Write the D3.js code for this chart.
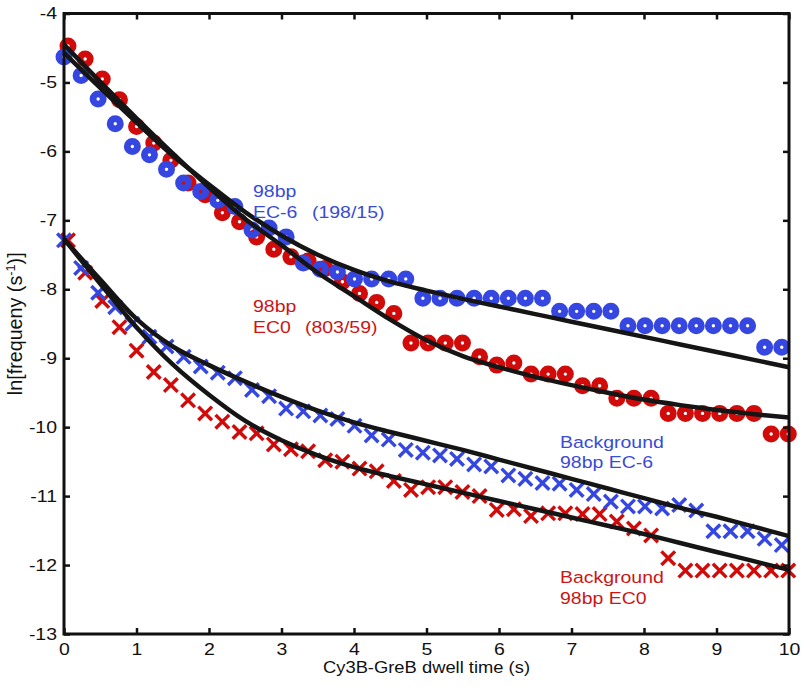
<!DOCTYPE html>
<html><head><meta charset="utf-8">
<script src="https://cdn.jsdelivr.net/npm/d3@7"></script>
<style>body{margin:0;background:#fff}svg{display:block}text{font-family:"Liberation Sans",Arial,sans-serif}</style>
</head><body>
<svg id="c" width="802" height="687"></svg>
<script>
const xTicks = [0,1,2,3,4,5,6,7,8,9,10];
const yTicks = [-4,-5,-6,-7,-8,-9,-10,-11,-12,-13];

const xBlue = [0.000,0.236,0.471,0.707,0.943,1.179,1.414,1.650,1.886,2.121,2.357,2.593,2.829,3.064,3.300,3.536,3.771,4.007,4.243,4.479,4.714,4.950,5.186,5.421,5.657,5.893,6.129,6.364,6.600,6.836,7.071,7.307,7.543,7.779,8.014,8.250,8.486,8.721,8.957,9.193,9.429,9.664,9.900];
const xRed = [0.055,0.292,0.528,0.765,1.001,1.238,1.474,1.711,1.947,2.184,2.421,2.657,2.894,3.130,3.367,3.603,3.840,4.076,4.313,4.550,4.786,5.023,5.259,5.496,5.732,5.969,6.205,6.442,6.678,6.915,7.152,7.388,7.625,7.861,8.098,8.334,8.571,8.807,9.044,9.281,9.517,9.754,9.990];

const ec6Circles = [-4.63,-4.90,-5.24,-5.60,-5.93,-6.05,-6.26,-6.46,-6.58,-6.71,-6.80,-7.14,-7.11,-7.24,-7.62,-7.71,-7.75,-7.85,-7.85,-7.85,-7.85,-8.13,-8.13,-8.13,-8.13,-8.13,-8.13,-8.13,-8.13,-8.32,-8.32,-8.32,-8.32,-8.53,-8.53,-8.53,-8.53,-8.53,-8.53,-8.53,-8.53,-8.84,-8.84];
const ec0Circles = [-4.47,-4.66,-4.95,-5.25,-5.64,-5.88,-6.13,-6.46,-6.63,-6.89,-7.02,-7.24,-7.42,-7.53,-7.59,-7.70,-7.89,-8.06,-8.19,-8.35,-8.78,-8.78,-8.78,-8.78,-8.98,-9.10,-9.07,-9.23,-9.23,-9.23,-9.40,-9.40,-9.58,-9.58,-9.58,-9.80,-9.80,-9.80,-9.80,-9.80,-9.80,-10.10,-10.10];
const bgEc6Crosses = [-7.29,-7.69,-8.05,-8.26,-8.50,-8.69,-8.83,-8.98,-9.12,-9.21,-9.29,-9.46,-9.55,-9.73,-9.77,-9.83,-9.88,-9.98,-10.12,-10.18,-10.33,-10.37,-10.41,-10.46,-10.54,-10.57,-10.70,-10.75,-10.81,-10.82,-10.91,-10.97,-11.08,-11.15,-11.15,-11.18,-11.13,-11.21,-11.51,-11.51,-11.51,-11.62,-11.71];
const bgEc0Crosses = [-7.29,-7.76,-8.17,-8.55,-8.89,-9.20,-9.39,-9.61,-9.80,-9.92,-10.07,-10.09,-10.25,-10.32,-10.35,-10.48,-10.50,-10.60,-10.64,-10.78,-10.91,-10.87,-10.87,-10.94,-11.00,-11.20,-11.19,-11.29,-11.25,-11.25,-11.26,-11.26,-11.37,-11.47,-11.57,-11.90,-12.08,-12.08,-12.08,-12.08,-12.08,-12.08,-12.08];

const fitX = [0,0.5,1,1.5,2,2.5,3,3.5,4,4.5,5,5.5,6,6.5,7,7.5,8,8.5,9,9.5,10];
const fitEc6 = [-4.57,-5.08,-5.58,-6.06,-6.48,-6.88,-7.22,-7.50,-7.72,-7.89,-8.02,-8.14,-8.25,-8.36,-8.47,-8.58,-8.69,-8.80,-8.91,-9.02,-9.13];
const fitEc0 = [-4.45,-4.99,-5.52,-6.03,-6.52,-6.98,-7.36,-7.76,-8.10,-8.44,-8.74,-8.97,-9.13,-9.27,-9.39,-9.50,-9.60,-9.68,-9.75,-9.81,-9.86];
const fitBgEc6 = [-7.27,-7.86,-8.43,-8.83,-9.10,-9.34,-9.56,-9.76,-9.93,-10.07,-10.20,-10.33,-10.47,-10.61,-10.75,-10.89,-11.03,-11.17,-11.30,-11.44,-11.58];
const fitBgEc0 = [-7.27,-7.92,-8.55,-9.09,-9.53,-9.91,-10.19,-10.41,-10.58,-10.71,-10.83,-10.95,-11.07,-11.19,-11.31,-11.43,-11.55,-11.68,-11.81,-11.94,-12.07];

const BLUE = "#3547e0", RED = "#d10a0a", BLUE_T = "#3a4bd6", RED_T = "#cc1515";
const SX = 1.18;

const svg = d3.select("#c");
const L = 64, R = 789, T = 13.5, B = 634;
const x = d3.scaleLinear().domain([0,10]).range([L,R]);
const y = d3.scaleLinear().domain([-13,-4]).range([B,T]);

const g = svg.append("g");

function circles(xs, ys, color){
  g.append("g").selectAll("circle").data(ys).join("circle")
    .attr("cx",(d,i)=>x(xs[i])).attr("cy",d=>y(d)).attr("r",5.1)
    .attr("fill","none").attr("stroke",color).attr("stroke-width",6.8);
}
function crosses(xs, ys, color){
  const s = 6.8;
  const gg = g.append("g").attr("stroke",color).attr("stroke-width",3.4);
  ys.forEach((d,i)=>{
    const cx = x(xs[i]), cy = y(d);
    gg.append("line").attr("x1",cx-s).attr("y1",cy-s).attr("x2",cx+s).attr("y2",cy+s);
    gg.append("line").attr("x1",cx-s).attr("y1",cy+s).attr("x2",cx+s).attr("y2",cy-s);
  });
}
crosses(xRed, bgEc0Crosses, RED);
crosses(xBlue, bgEc6Crosses, BLUE);
circles(xRed, ec0Circles, RED);
circles(xBlue, ec6Circles, BLUE);

const line = d3.line().x((d,i)=>x(fitX[i])).y(d=>y(d)).curve(d3.curveCatmullRom);
[fitEc6, fitEc0, fitBgEc6, fitBgEc0].forEach(f=>{
  g.append("path").attr("d",line(f)).attr("fill","none").attr("stroke","#151515").attr("stroke-width",4.5);
});

const ax = svg.append("g");
const bx = ax.append("g").attr("transform",`translate(0,${B})`).call(d3.axisBottom(x).tickValues(xTicks).tickSizeInner(-6).tickSizeOuter(0).tickPadding(9).tickFormat(d3.format("d")));
ax.append("g").attr("transform",`translate(0,${T})`).call(d3.axisTop(x).tickValues(xTicks).tickSizeInner(-6).tickSizeOuter(0).tickFormat(""));
const ly = ax.append("g").attr("transform",`translate(${L},0)`).call(d3.axisLeft(y).tickValues(yTicks).tickSizeInner(-6).tickSizeOuter(0).tickPadding(7).tickFormat(d=>String(d).replace("\u2212","-")));
ax.append("g").attr("transform",`translate(${R},0)`).call(d3.axisRight(y).tickValues(yTicks).tickSizeInner(-6).tickSizeOuter(0).tickFormat(""));
ax.selectAll(".domain").remove();
ax.selectAll(".tick line").attr("stroke","#111").attr("stroke-width",2.5);
ax.selectAll(".tick text").attr("font-size",16.5).attr("fill","#111").attr("font-family",'"Liberation Sans",Arial,sans-serif');
bx.selectAll(".tick text").attr("transform",`scale(${SX},1)`);
ly.selectAll(".tick text").attr("x",-7/SX).attr("transform",`scale(${SX},1)`);
ax.append("rect").attr("x",L).attr("y",T).attr("width",R-L).attr("height",B-T)
  .attr("fill","none").attr("stroke","#111").attr("stroke-width",3);

function label(tx, ty, s, color){
  svg.append("text").attr("transform",`translate(${tx},${ty}) scale(${SX},1)`)
    .attr("fill",color).attr("font-size",16.5).text(s);
}
label(253,197,"98bp",BLUE_T); label(253,218,"EC-6",BLUE_T); label(312,218,"(198/15)",BLUE_T);
label(253,312,"98bp",RED_T); label(253,333,"EC0",RED_T); label(305,333,"(803/59)",RED_T);
label(560,448,"Background",BLUE_T); label(560,468,"98bp EC-6",BLUE_T);
label(560,583,"Background",RED_T); label(560,604,"98bp EC0",RED_T);

svg.append("text").attr("transform",`translate(${(L+R)/2},673) scale(1.08,1)`).attr("text-anchor","middle")
  .attr("font-size",17).attr("fill","#111").text("Cy3B-GreB dwell time (s)");
const yl = svg.append("text").attr("transform",`translate(22,${(T+B)/2}) rotate(-90) scale(1.16,1.15)`).attr("text-anchor","middle")
  .attr("font-size",17).attr("fill","#111");
yl.append("tspan").text("ln[frequeny (s");
yl.append("tspan").attr("dy",-6).attr("font-size",11).text("-1");
yl.append("tspan").attr("dy",6).text(")]");
</script>
</body></html>
